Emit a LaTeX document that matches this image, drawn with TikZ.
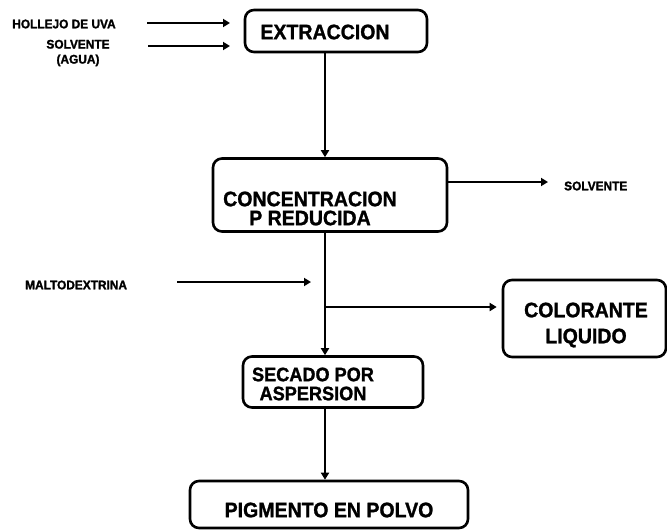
\documentclass[tikz,border=0pt]{standalone}
\usepackage{fontspec}
\setmainfont{Liberation Sans}
\newfontfamily\boxfont{Liberation Sans}[FakeStretch=0.93, FakeBold=1.2]
\newfontfamily\lblfont{Liberation Sans}[FakeStretch=0.95, FakeBold=1.6]
\usetikzlibrary{arrows.meta}
\begin{document}
\begin{tikzpicture}[x=1pt,y=-1pt,
  procbox/.style={draw, line width=2.6pt, rounded corners=9pt, inner sep=0pt},
  boxtext/.style={font=\boxfont\fontsize{21}{19}\selectfont\bfseries, align=center, inner sep=0pt},
  smalltext/.style={font=\lblfont\fontsize{12.5}{15}\selectfont\bfseries, align=center, inner sep=0pt},
  flow/.style={line width=2.6pt, -{Triangle[length=7pt,width=8pt]}}]
\useasboundingbox (0,0) rectangle (667,530);

% process boxes
\node[procbox, minimum width=182pt, minimum height=42pt] (ext) at (336,31) {};
\node[boxtext] (extT) at (325,32) {EXTRACCION};

\node[procbox, minimum width=234pt, minimum height=73pt] (conc) at (330,195) {};
\node[boxtext] (concT) at (310,208.5) {CONCENTRACION\\P REDUCIDA};

\node[procbox, minimum width=180pt, minimum height=51pt] (sec) at (333,382) {};
\node[boxtext, font=\boxfont\fontsize{19.5}{19}\selectfont\bfseries] (secT) at (313,384) {SECADO POR\\ASPERSION};

\node[procbox, minimum width=163pt, minimum height=77pt] (col) at (584.5,318.5) {};
\node[boxtext, font=\boxfont\fontsize{21}{26}\selectfont\bfseries] (colT) at (586,325) {COLORANTE\\LIQUIDO};

\node[procbox, minimum width=278pt, minimum height=47pt] (pig) at (329,504.5) {};
\node[boxtext] (pigT) at (329,510) {PIGMENTO EN POLVO};

% stream labels
\node[smalltext] (uva) at (64,24) {HOLLEJO DE UVA};
\node[smalltext] (solv) at (78,53) {SOLVENTE\\(AGUA)};
\node[smalltext, anchor=west] (solvOut) at (564,186) {SOLVENTE};
\node[smalltext, anchor=west] (malto) at (25,285) {MALTODEXTRINA};

% free ends of the feed and output streams
\coordinate (uvaS) at (147,23);
\coordinate (uvaE) at (230,23);
\coordinate (solvS) at (148,46);
\coordinate (solvE) at (230,46);
\coordinate (solvOutE) at (548,182);
\coordinate (maltoS) at (177,282);
\coordinate (maltoE) at (311,282);
\coordinate (branch) at (325,307);

% connectors
\draw[flow] (ext.south -| 325,0) -- (conc.north -| 325,0);
\draw[flow] (uvaS) -- (uvaE);
\draw[flow] (solvS) -- (solvE);
\draw[flow] (conc.east |- 0,182) -- (solvOutE);
\draw[flow] (conc.south -| 325,0) -- (sec.north -| 325,0);
\draw[flow] (maltoS) -- (maltoE);
\draw[flow] (branch) -- ([xshift=-5pt]col.west |- branch);
\draw[flow] (sec.south -| 325,0) -- (pig.north -| 325,0);
\end{tikzpicture}
\end{document}
